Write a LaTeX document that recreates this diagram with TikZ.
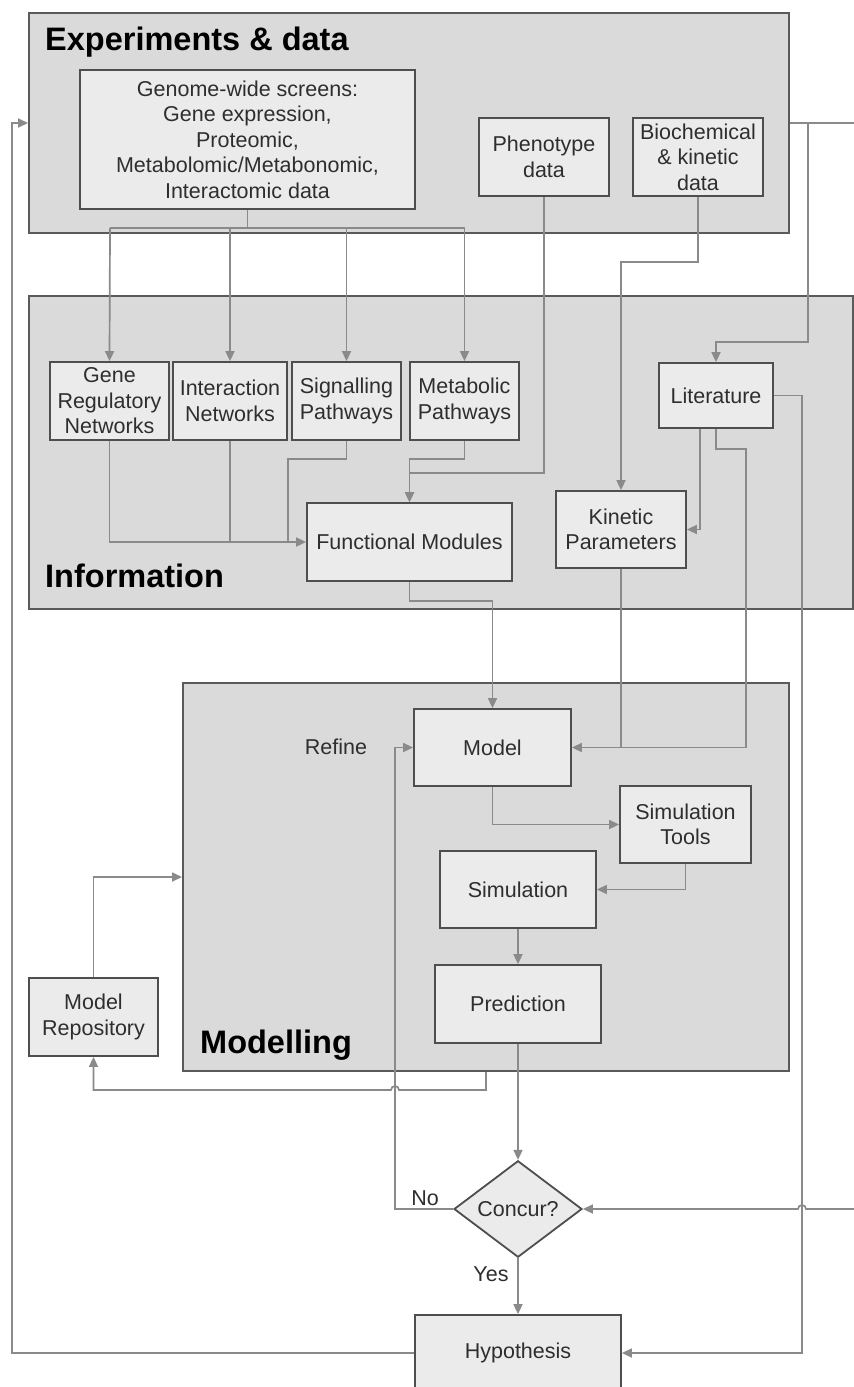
\documentclass[tikz,border=0pt]{standalone}
\usepackage{fontspec}
\setmainfont{Liberation Sans}
\usetikzlibrary{arrows.meta,shapes.geometric,calc}
\definecolor{panelfill}{HTML}{DADADA}
\definecolor{panelline}{HTML}{5A5A5A}
\definecolor{boxfill}{HTML}{EBEBEB}
\definecolor{boxline}{HTML}{4E4E4E}
\definecolor{wire}{HTML}{8A8A8A}
\definecolor{boxtext}{HTML}{2E2E2E}
\tikzset{
  panel/.style={draw=panelline, fill=panelfill, line width=2pt, rectangle, inner sep=0pt},
  stepbox/.style={draw=boxline, fill=boxfill, line width=1.8pt, rectangle, inner sep=0pt,
    align=center, text=boxtext, font=\fontsize{21.5}{25.5}\selectfont},
  decision/.style={stepbox, diamond},
  paneltitle/.style={font=\fontsize{32.5}{38}\selectfont\bfseries, anchor=base west, inner sep=0pt},
  tag/.style={font=\fontsize{21.5}{25.5}\selectfont, text=boxtext, inner sep=0pt},
  wirestyle/.style={draw=wire, line width=1.7pt},
  link/.style={wirestyle, -{Triangle[length=10pt,width=9pt]}},
}
\begin{document}
\begin{tikzpicture}[x=1pt,y=-1pt]
\useasboundingbox (0,0) rectangle (854,1387);
\clip (0,0) rectangle (854,1387);
\fill[white] (0,0) rectangle (854,1387);

% stage panels
\node[panel, minimum width=760pt, minimum height=220pt] (exp) at (409,123) {};
\node[panel, minimum width=824pt, minimum height=313pt] (info) at (441,452.5) {};
\node[panel, minimum width=606pt, minimum height=388pt] (modl) at (486,877) {};

\node[paneltitle] (expT) at (45,50) {Experiments \& data};
\node[paneltitle] (infoT) at (45,587) {Information};
\node[paneltitle] (modlT) at (200,1053) {Modelling};

% experiments & data
\node[stepbox, minimum width=335pt, minimum height=139pt] (genome) at (247.5,139.5)
  {Genome-wide screens:\\Gene expression,\\Proteomic,\\Metabolomic/Metabonomic,\\Interactomic data};
\node[stepbox, minimum width=130pt, minimum height=78pt] (pheno) at (544,157) {Phenotype\\data};
\node[stepbox, minimum width=130pt, minimum height=78pt] (biochem) at (698,157) {Biochemical\\\& kinetic\\data};

% information
\node[stepbox, minimum width=119pt, minimum height=78pt] (grn) at (109.5,401) {Gene\\Regulatory\\Networks};
\node[stepbox, minimum width=114pt, minimum height=78pt] (intn) at (230,401) {Interaction\\Networks};
\node[stepbox, minimum width=109pt, minimum height=78pt] (sigp) at (346.5,401) {Signalling\\Pathways};
\node[stepbox, minimum width=109pt, minimum height=78pt] (metp) at (464.5,401) {Metabolic\\Pathways};
\node[stepbox, minimum width=114pt, minimum height=65pt] (lit) at (716,395.5) {Literature};
\node[stepbox, minimum width=205pt, minimum height=78pt] (fmod) at (409.5,542) {Functional Modules};
\node[stepbox, minimum width=130pt, minimum height=77pt] (kin) at (621,529.5) {Kinetic\\Parameters};

% modelling
\node[stepbox, minimum width=157pt, minimum height=77pt] (model) at (492.5,747.5) {Model};
\node[stepbox, minimum width=131pt, minimum height=77pt] (simt) at (685.5,824.5) {Simulation\\Tools};
\node[stepbox, minimum width=156pt, minimum height=77pt] (sim) at (518,889.5) {Simulation};
\node[stepbox, minimum width=166pt, minimum height=78pt] (pred) at (518,1004) {Prediction};
\node[stepbox, minimum width=129pt, minimum height=78pt] (repo) at (93.5,1017) {Model\\Repository};
\node[tag] (refine) at (336,747) {Refine};

% evaluation
\node[decision, minimum width=128pt, minimum height=76pt] (concur) at (518,1209) {Concur?};
\node[stepbox, minimum width=206pt, minimum height=76pt] (hyp) at (518,1353) {Hypothesis};
\node[tag] (no) at (425,1198) {No};
\node[tag] (yes) at (491,1274) {Yes};

% junction points
\coordinate (busL) at (110,228);
\coordinate (busR) at (464.5,228);
\coordinate (expTap) at (808,123);
\coordinate (expOut) at (854,123);
\coordinate (concurIn) at (854,1209);
\coordinate (litRail) at (802,1353);
\coordinate (leftRail) at (12,123);
\coordinate (sigJoin) at (288,542);
\coordinate (phenoJoin) at (409.5,473);
\coordinate (litJoin) at (746,747.5);
\coordinate (refineRail) at (395,1209);
\coordinate (repoTap) at (486,1090);
\coordinate (repoRail) at (93.5,1090);

% genome-wide screens feed the network layers
\draw[wirestyle] (genome.south) -- (genome.south |- busL);
\draw[wirestyle] (busL) -- (busR);
\draw[link] (busL) -- (grn.north);
\draw[link] (intn.north |- busL) -- (intn.north);
\draw[link] (sigp.north |- busL) -- (sigp.north);
\draw[link] (busR) -- (metp.north);

% networks and pathways into functional modules
\draw[link] (grn.south) |- (fmod.west);
\draw[wirestyle] (intn.south) -- (intn.south |- fmod.west);
\draw[wirestyle] (sigp.south) -- ++(0,18) -| (sigJoin);
\draw[link] (metp.south) -- ++(0,18) -| (fmod.north);
\draw[link] (pheno.south) |- (phenoJoin) -- (fmod.north);

% kinetic data and literature
\draw[link] (biochem.south) -- ++(0,65) -| (kin.north);
\draw[wirestyle] (exp.east) -- (expOut);
\draw[link] (expTap) |- ($(lit.north)+(0,-20)$) -- (lit.north);
\draw[link] ($(lit.south)+(-16,0)$) |- (kin.east);
\draw[link] (lit.south) -- ++(0,20) -| (litJoin) -- (model.east);
\draw[wirestyle] (kin.south) -- (kin.south |- litJoin);
\draw[link] (lit.east) -| (litRail) -- (hyp.east);

% modelling loop
\draw[link] (fmod.south) -- ++(0,19) -| (model.north);
\draw[link] (model.south) |- (simt.west);
\draw[link] (simt.south) |- (sim.east);
\draw[link] (sim.south) -- (pred.north);
\draw[link] (pred.south) -- (concur.north);
\draw[link] (concur.west) -- (refineRail) |- (model.west);
\draw[link] (modl.south) -- (repoTap) -- (399,1090) arc (0:-180:4) -- (repoRail) -- (repo.south);
\draw[link] (repo.north) |- (modl.west);

% outcome
\draw[link] (concur.south) -- (hyp.north);
\draw[link] (concurIn) -- (806,1209) arc (0:-180:4) -- (concur.east);
\draw[link] (hyp.west) -| (leftRail) -- (exp.west);
\end{tikzpicture}
\end{document}
